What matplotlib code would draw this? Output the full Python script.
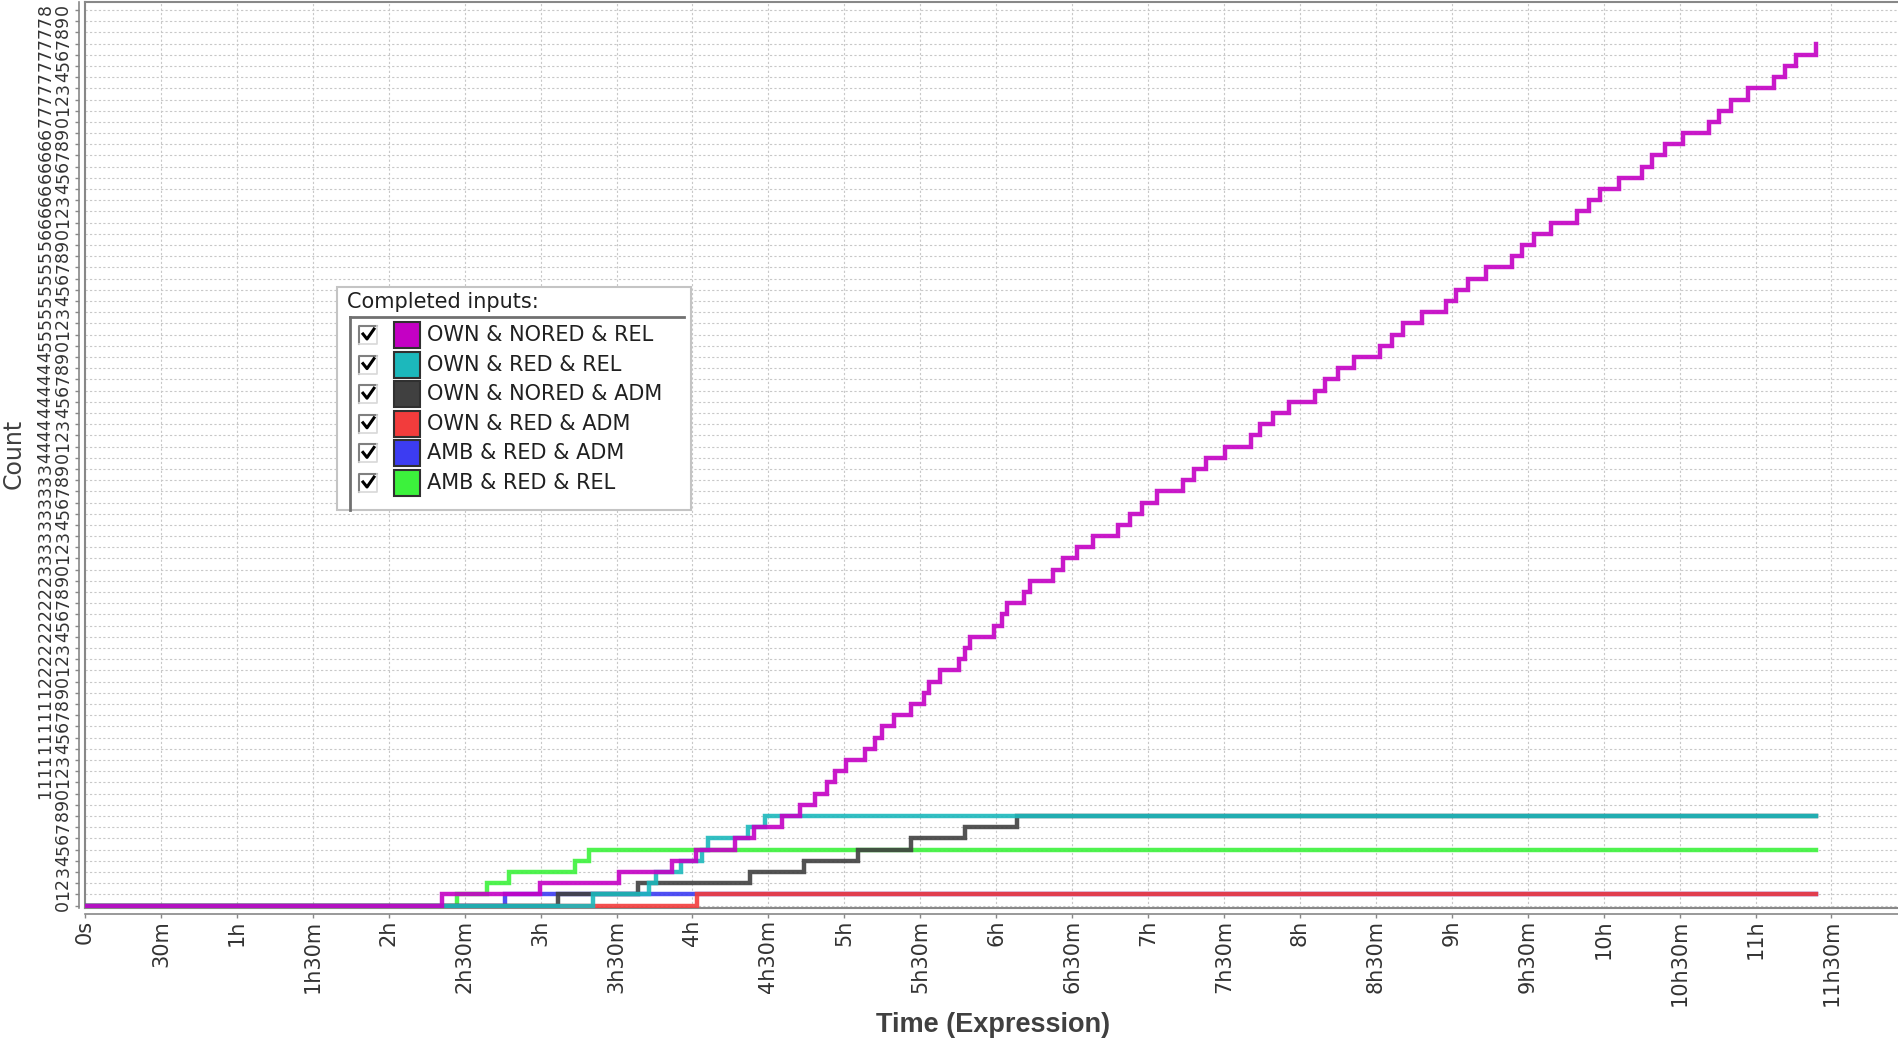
import numpy as np
import matplotlib
matplotlib.use('Agg')
import matplotlib.pyplot as plt
from matplotlib.patches import Rectangle
from matplotlib.lines import Line2D

W, H = 1898, 1040

series_names = ['OWN & NORED & REL', 'OWN & RED & REL', 'OWN & NORED & ADM',
                'OWN & RED & ADM', 'AMB & RED & ADM', 'AMB & RED & REL']
series_colors = ['#c400c4', '#1cb8bc', '#404040', '#f23c3c', '#3c3cf2', '#3cf23c']

# minutes at which each series got one more completed input
own_nored_rel = [140.9, 179.6, 211.0, 231.8, 241.5, 256.8, 264.5, 275.4, 282.5, 288.5,
                 293.3, 296.3, 300.7, 308.3, 312.2, 314.8, 319.6, 326.4, 331.4, 333.6,
                 337.8, 345.5, 347.7, 349.7, 359.2, 362.2, 364.2, 371.0, 373.4, 382.6,
                 386.3, 391.8, 398.4, 408.3, 412.9, 417.5, 423.7, 434.0, 438.2, 442.9,
                 450.4, 460.7, 464.2, 469.3, 475.8, 486.0, 489.9, 495.0, 501.5, 511.7,
                 516.2, 520.7, 528.3, 537.6, 541.7, 546.3, 553.6, 563.9, 567.8, 572.6,
                 579.3, 589.6, 594.1, 598.5, 605.9, 615.2, 619.3, 624.2, 631.3, 641.5,
                 645.4, 650.2, 657.2, 667.3, 671.7, 675.9, 683.9]
own_red_rel = [200.8, 223.0, 225.5, 235.5, 243.6, 246.3, 262.1, 268.5]
own_nored_adm = [187.0, 218.6, 262.7, 284.0, 305.4, 326.5, 347.8, 368.4]
own_red_adm = [241.7]
amb_red_adm = [165.9]
amb_red_rel = [146.8, 159.0, 167.7, 193.6, 199.3]
end_time = 683.9

time_labels = ['0s', '30m', '1h', '1h30m', '2h', '2h30m', '3h', '3h30m', '4h', '4h30m',
               '5h', '5h30m', '6h', '6h30m', '7h', '7h30m', '8h', '8h30m', '9h', '9h30m',
               '10h', '10h30m', '11h', '11h30m']
count_ticks = list(range(81))


def fx(px):
    return px / W


def fy(py):
    return 1 - py / H


fig = plt.figure(figsize=(W / 100, H / 100), dpi=100)
fig.patch.set_facecolor('white')
ax = fig.add_axes([fx(85), fy(908), fx(1898) - fx(85), fy(2) - fy(908)])

# spines first: moving a spine rebuilds the ticks
for side in ['left', 'bottom']:
    ax.spines[side].set_position(('outward', 4))
    ax.spines[side].set_color('#888888')
    ax.spines[side].set_linewidth(1.2)
ax.spines['top'].set_color('#888888')
ax.spines['top'].set_linewidth(1.5)
ax.spines['right'].set_visible(False)

all_series = [own_nored_rel, own_red_rel, own_nored_adm, own_red_adm, amb_red_adm, amb_red_rel]
for i, times in enumerate(all_series):
    xs = [0] + list(times) + [end_time]
    ys = list(range(len(times) + 1)) + [len(times)]
    ax.step(xs, ys, where='post', color=series_colors[i], lw=3.2, alpha=0.9,
            solid_joinstyle='miter', zorder=10 - i)

ax.set_xlim(0, 716.3)
ax.set_ylim(-0.22, 80.71)
ax.tick_params(axis='x', length=3, width=1, color='#888888', pad=1.5)
ax.tick_params(axis='y', length=3, width=1, color='#888888', pad=2.2)
ax.set_xticks(np.arange(len(time_labels)) * 30)
ax.set_xticklabels(time_labels, rotation=90, fontsize=15, color='#333333')
# count labels: every digit turned on its own, the digits still side by side
ax.set_yticks(count_ticks)
ax.set_yticklabels(['\n'.join(str(v)) for v in count_ticks], rotation=90, linespacing=0.98,
                   fontsize=12.5, color='#333333', ha='right', va='center')
ax.grid(True, color='#c8c8c8', linestyle=(0, (2, 2)), linewidth=0.8, zorder=0)
ax.set_axisbelow(True)

# plot frame next to the offset axis lines
ax.add_line(Line2D([0, 0], [0, 1], transform=ax.transAxes, color='#888888', lw=1.5, clip_on=False))
ax.add_line(Line2D([0, 1], [0, 0], transform=ax.transAxes, color='#888888', lw=1.5, clip_on=False))

fig.text(fx(14), fy(454), 'Count', rotation=90, fontsize=17, color='#404040',
         ha='center', va='center')
fig.text(fx(993), fy(1025), 'Time (Expression)', fontsize=19.5, fontweight='bold',
         family=['DejaVu Sans Condensed', 'Liberation Sans Narrow', 'Liberation Sans'],
         color='#404040', ha='center', va='center')

# legend panel
T = fig.transFigure
fig.patches.append(Rectangle((fx(337), fy(510)), fx(691) - fx(337), fy(287) - fy(510),
                             transform=T, fc='white', ec='#c4c4c4', lw=1.5, zorder=20))
fig.text(fx(347), fy(302), 'Completed inputs:', fontsize=15, color='#202020',
         ha='left', va='center', zorder=21)
fig.lines.append(Line2D([fx(350), fx(684)], [fy(317), fy(317)], transform=T,
                        color='#707070', lw=2, zorder=21))
fig.lines.append(Line2D([fx(350), fx(350)], [fy(317), fy(510)], transform=T,
                        color='#707070', lw=2, zorder=21))
for i, name in enumerate(series_names):
    yc = 335 + 29.6 * i
    fig.lines.append(Line2D([fx(359), fx(359), fx(377)], [fy(yc + 9), fy(yc - 9), fy(yc - 9)],
                            transform=T, color='#808080', lw=1.5, zorder=21))
    fig.lines.append(Line2D([fx(359), fx(377), fx(377)], [fy(yc + 9), fy(yc + 9), fy(yc - 9)],
                            transform=T, color='#d8d8d8', lw=1.2, zorder=21))
    fig.lines.append(Line2D([fx(363), fx(367), fx(374)], [fy(yc - 1), fy(yc + 4), fy(yc - 6)],
                            transform=T, color='black', lw=2.2, zorder=22))
    fig.patches.append(Rectangle((fx(394), fy(yc + 13)), fx(420) - fx(394), fy(yc - 13) - fy(yc + 13),
                                 transform=T, fc=series_colors[i], ec='#303030', lw=1.5, zorder=21))
    fig.text(fx(427), fy(yc), name, fontsize=15, color='#202020', ha='left', va='center', zorder=22)

fig.savefig('out.png', dpi=100)
